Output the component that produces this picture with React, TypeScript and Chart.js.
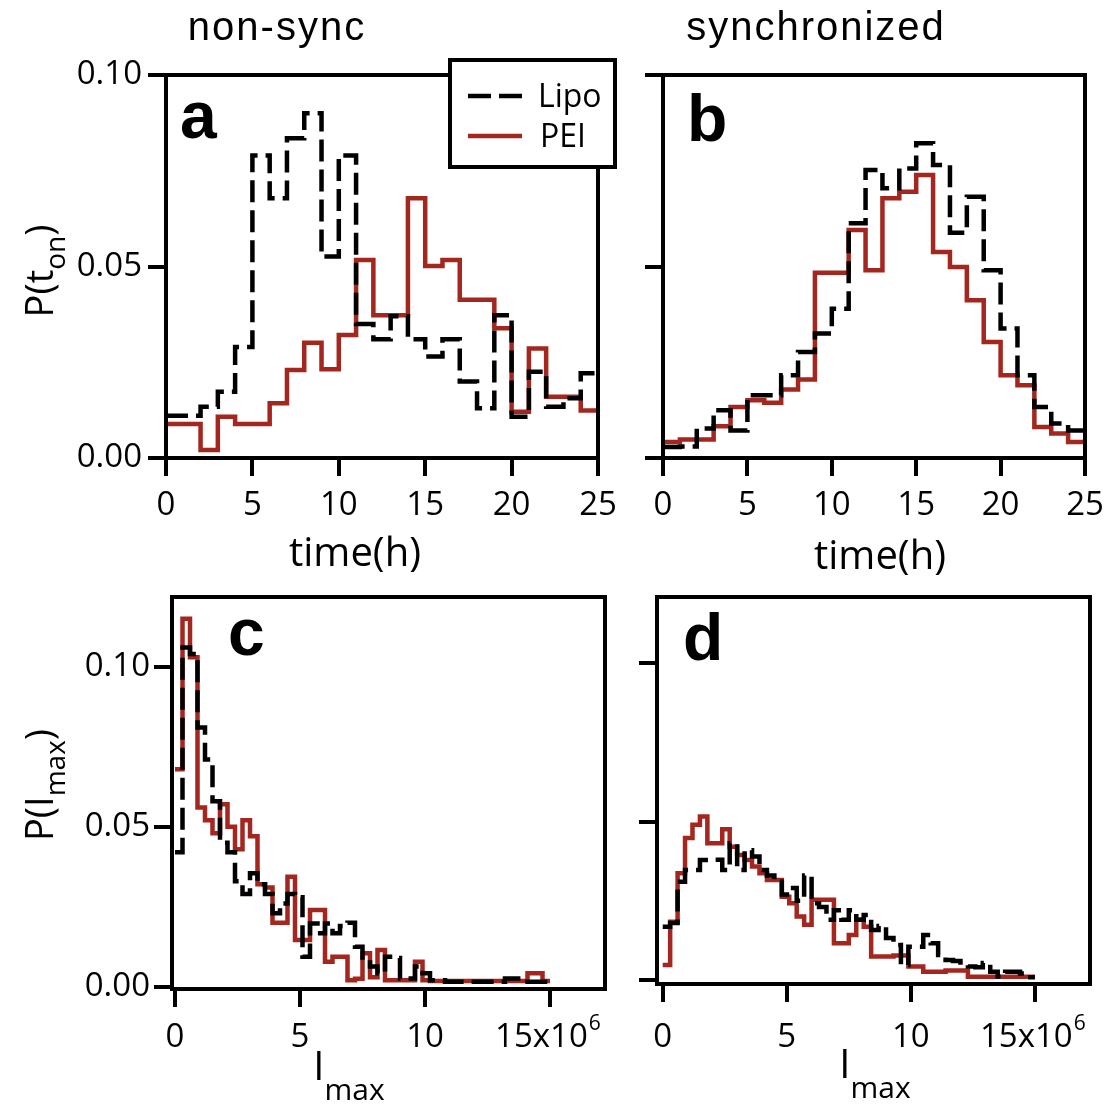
import React, { useEffect, useRef } from 'react';
import { Chart, registerables } from 'chart.js';

Chart.register(...registerables);

const W = 1107;
const H = 1108;
const RED = '#a3261f';
const BLACK = '#000000';
const SANS = "'Open Sans', 'DejaVu Sans', sans-serif";
const HELV = "'Liberation Sans', Arial, sans-serif";

// ---------------- data ----------------
const seriesLabels = ['Lipo', 'PEI'];
const timeTickValues = [0, 5, 10, 15, 20, 25];
const imaxTickValues = [0, 5, 10, 15];
const probTickValues = [0, 0.05, 0.1];
const timeBinWidth = 1; // h
const imaxBinWidth = 0.3; // x10^6

// panel a: non-sync, P(t_on), 1 h bins from 0 to 25 h
const lipoNonSyncTime = [0.011, 0.011, 0.0134, 0.0173, 0.029, 0.079, 0.0678, 0.0835, 0.09, 0.0526, 0.079, 0.035, 0.031, 0.037, 0.031, 0.0265, 0.031, 0.02, 0.013, 0.0373, 0.0108, 0.0225, 0.0134, 0.0156, 0.0221];
const peiNonSyncTime = [0.0089, 0.0089, 0.0021, 0.0108, 0.0089, 0.0089, 0.0143, 0.023, 0.0301, 0.0232, 0.0321, 0.0517, 0.0373, 0.0373, 0.0678, 0.0501, 0.0517, 0.0413, 0.0413, 0.0339, 0.0121, 0.0286, 0.016, 0.016, 0.0124];

// panel b: synchronized, P(t_on)
const lipoSyncTime = [0.0029, 0.003, 0.0077, 0.0125, 0.0072, 0.0164, 0.0164, 0.0216, 0.0277, 0.0325, 0.039, 0.0613, 0.0752, 0.0704, 0.0756, 0.0822, 0.0765, 0.0588, 0.0682, 0.049, 0.0338, 0.0216, 0.0133, 0.009, 0.0072];
const peiSyncTime = [0.0042, 0.0048, 0.0048, 0.0083, 0.0133, 0.0151, 0.0144, 0.0179, 0.0205, 0.0484, 0.0484, 0.0595, 0.049, 0.0678, 0.0695, 0.0739, 0.0538, 0.0499, 0.0412, 0.0303, 0.0216, 0.019, 0.0081, 0.0064, 0.0042];

// panel c: non-sync, P(I_max), 0.3x10^6 bins from 0 to 15x10^6
const lipoNonSyncImax = [
  0.042, 0.106, 0.104, 0.081, 0.071, 0.058, 0.045, 0.042, 0.033, 0.029,
  0.0355, 0.032, 0.029, 0.023, 0.026, 0.029, 0.028, 0.0094, 0.0198, 0.0167,
  0.0198, 0.0167, 0.019, 0.02, 0.0125, 0.0083, 0.0063, 0.0042, 0.0094, 0.009,
  0.0026, 0.0026, 0.0063, 0.0042, 0.002, 0.002, 0.0016, 0.0016, 0.0016, 0.0016,
  0.0016, 0.0016, 0.0016, 0.0016, 0.0026, 0.0026, 0.0026, 0.0016, 0.0016, 0.0016,
];
const peiNonSyncImax = [
  0.068, 0.115, 0.103, 0.056, 0.052, 0.048, 0.057, 0.05, 0.043, 0.052,
  0.047, 0.032, 0.031, 0.02, 0.02, 0.0344, 0.0146, 0.0146, 0.024, 0.024,
  0.0078, 0.0094, 0.0094, 0.002, 0.0025, 0.0105, 0.003, 0.0115, 0.002, 0.002,
  0.002, 0.002, 0.0078, 0.002, 0.0018, 0.0018, 0.0018, 0.0018, 0.0018, 0.0018,
  0.0018, 0.0018, 0.0018, 0.0018, 0.0018, 0.0018, 0.0018, 0.0042, 0.0042, 0.0018,
];

// panel d: synchronized, P(I_max)
const lipoSyncImax = [
  0.0168, 0.018, 0.031, 0.0347, 0.0347, 0.0379, 0.0379, 0.038, 0.0347, 0.0432,
  0.0347, 0.041, 0.039, 0.0347, 0.033, 0.031, 0.027, 0.029, 0.025, 0.033,
  0.0242, 0.023, 0.019, 0.022, 0.019, 0.022, 0.019, 0.0205, 0.0158, 0.017,
  0.0132, 0.011, 0.0047, 0.0105, 0.0105, 0.0142, 0.0116, 0.0079, 0.0063, 0.006,
  0.0047, 0.0042, 0.004, 0.0053, 0.0026, 0.0011, 0.0026, 0.0026, 0.002, 0.0008,
];
const peiSyncImax = [
  0.0047, 0.0184, 0.0337, 0.0448, 0.049, 0.0516, 0.0432, 0.0432, 0.0476, 0.0421,
  0.0395, 0.0379, 0.0358, 0.0337, 0.0316, 0.0316, 0.0263, 0.0242, 0.02, 0.0174,
  0.0253, 0.0253, 0.0253, 0.0116, 0.0116, 0.0142, 0.019, 0.0168, 0.0074, 0.0074,
  0.0074, 0.0077, 0.0077, 0.0042, 0.0042, 0.0026, 0.0026, 0.0026, 0.003, 0.003,
  0.003, 0.001, 0.001, 0.001, 0.001, 0.001, 0.001, 0.001, 0.001, 0.001,
];

// ---------------- helpers ----------------
function stepPoints(values: number[], width: number) {
  const pts = values.map((v, i) => ({ x: i * width, y: v }));
  pts.push({ x: values.length * width, y: values[values.length - 1] });
  return pts;
}

type Part = { t: string; sub?: boolean };

function drawParts(
  ctx: CanvasRenderingContext2D,
  parts: Part[],
  cx: number,
  cy: number,
  mainSize: number,
  subSize: number,
  subDy: number,
  vertical: boolean,
) {
  ctx.save();
  const mainFont = `${mainSize}px ${SANS}`;
  const subFont = `${subSize}px ${SANS}`;
  let total = 0;
  const widths = parts.map((p) => {
    ctx.font = p.sub ? subFont : mainFont;
    const w = ctx.measureText(p.t).width;
    total += w;
    return w;
  });
  ctx.translate(cx, cy);
  if (vertical) ctx.rotate(-Math.PI / 2);
  ctx.fillStyle = BLACK;
  ctx.textAlign = 'left';
  ctx.textBaseline = 'alphabetic';
  let x = -total / 2;
  parts.forEach((p, i) => {
    ctx.font = p.sub ? subFont : mainFont;
    ctx.fillText(p.t, x, p.sub ? subDy : 0);
    x += widths[i];
  });
  ctx.restore();
}

function drawPlain(
  ctx: CanvasRenderingContext2D,
  text: string,
  x: number,
  y: number,
  font: string,
  align: CanvasTextAlign,
  spacing = '0px',
) {
  ctx.save();
  ctx.font = font;
  (ctx as any).letterSpacing = spacing;
  ctx.fillStyle = BLACK;
  ctx.textAlign = align;
  ctx.textBaseline = 'alphabetic';
  ctx.fillText(text, x, y);
  ctx.restore();
}

type Spec = {
  id: string;
  area: { left: number; top: number; right: number; bottom: number };
  xMin: number;
  xMax: number;
  yMin: number;
  yMax: number;
  xTicks: number[];
  yTicks: number[];
  lipo: number[];
  pei: number[];
  binWidth: number;
  yLabels: boolean;
  xPad: number;
  yPad: number;
  xFmt: (v: number) => string;
  decorate: (chart: any, ctx: CanvasRenderingContext2D) => void;
};

const X_H = 80;
const TICK_LEN = 18;
const TICK_SIZE = 33;
const LINE_W = 4.5;

function buildConfig(spec: Spec): any {
  const yW = spec.yLabels ? 130 : 20;
  const a = spec.area;
  return {
    type: 'line',
    data: {
      datasets: [
        {
          label: seriesLabels[0],
          data: stepPoints(spec.lipo, spec.binWidth),
          borderColor: BLACK,
          borderWidth: LINE_W,
          borderDash: [22, 8],
          stepped: true,
          pointRadius: 0,
          fill: false,
        },
        {
          label: seriesLabels[1],
          data: stepPoints(spec.pei, spec.binWidth),
          borderColor: RED,
          borderWidth: LINE_W,
          stepped: true,
          pointRadius: 0,
          fill: false,
        },
      ],
    },
    options: {
      responsive: false,
      maintainAspectRatio: false,
      animation: false,
      events: [],
      layout: {
        padding: {
          left: a.left - yW,
          top: a.top,
          right: W - a.right,
          bottom: H - a.bottom - X_H,
        },
      },
      plugins: {
        legend: { display: false },
        tooltip: { enabled: false },
        title: { display: false },
      },
      scales: {
        x: {
          type: 'linear',
          position: 'bottom',
          min: spec.xMin,
          max: spec.xMax,
          afterBuildTicks: (s: any) => {
            s.ticks = spec.xTicks.map((v) => ({ value: v }));
          },
          afterFit: (s: any) => {
            s.height = X_H;
            s.paddingLeft = 0;
            s.paddingRight = 0;
          },
          grid: {
            display: true,
            drawOnChartArea: false,
            drawTicks: true,
            tickLength: TICK_LEN,
            tickWidth: 4,
            lineWidth: 4,
            tickColor: BLACK,
            color: BLACK,
          },
          border: { display: false },
          ticks: {
            color: BLACK,
            font: { family: SANS, size: TICK_SIZE },
            padding: spec.xPad,
            maxRotation: 0,
            minRotation: 0,
            autoSkip: false,
            callback: (v: any) => spec.xFmt(Number(v)),
          },
        },
        y: {
          type: 'linear',
          position: 'left',
          min: spec.yMin,
          max: spec.yMax,
          afterBuildTicks: (s: any) => {
            s.ticks = spec.yTicks.map((v) => ({ value: v }));
          },
          afterFit: (s: any) => {
            s.width = yW;
            s.paddingTop = 0;
            s.paddingBottom = 0;
          },
          grid: {
            display: true,
            drawOnChartArea: false,
            drawTicks: true,
            tickLength: TICK_LEN,
            tickWidth: 4,
            lineWidth: 4,
            tickColor: BLACK,
            color: BLACK,
          },
          border: { display: false },
          ticks: {
            color: BLACK,
            font: { family: SANS, size: TICK_SIZE },
            padding: spec.yPad,
            autoSkip: false,
            callback: (v: any) => (spec.yLabels ? Number(v).toFixed(2) : ''),
          },
        },
      },
    },
    plugins: [
      {
        id: 'decor_' + spec.id,
        afterDraw(chart: any) {
          const ctx: CanvasRenderingContext2D = chart.ctx;
          const ca = chart.chartArea;
          ctx.save();
          ctx.strokeStyle = BLACK;
          ctx.lineWidth = 4;
          ctx.setLineDash([]);
          ctx.strokeRect(ca.left, ca.top, ca.right - ca.left, ca.bottom - ca.top);
          ctx.restore();
          spec.decorate(chart, ctx);
        },
      },
    ],
  };
}

const LETTER_FONT = `bold 66px ${HELV}`;
const TITLE_FONT = `40px ${HELV}`;

function drawSuperscript(chart: any, ctx: CanvasRenderingContext2D, pad: number) {
  const xs = chart.scales.x;
  const px = xs.getPixelForValue(15);
  ctx.save();
  ctx.font = `${TICK_SIZE}px ${SANS}`;
  const full = ctx.measureText('15x10  ').width;
  const main = ctx.measureText('15x10').width;
  const mid = xs.top + TICK_LEN + pad + TICK_SIZE * 0.6;
  ctx.font = `21px ${SANS}`;
  ctx.fillStyle = BLACK;
  ctx.textAlign = 'left';
  ctx.textBaseline = 'middle';
  ctx.fillText('6', px - full / 2 + main + 1, mid - 14);
  ctx.restore();
}

const imaxFmt = (v: number) => (v === 15 ? '15x10  ' : String(v));

const specs: Spec[] = [
  {
    id: 'a',
    area: { left: 166, top: 75, right: 598, bottom: 458 },
    xMin: 0,
    xMax: 25,
    yMin: 0,
    yMax: 0.1,
    xTicks: timeTickValues,
    yTicks: probTickValues,
    lipo: lipoNonSyncTime,
    pei: peiNonSyncTime,
    binWidth: timeBinWidth,
    yLabels: true,
    xPad: 10,
    yPad: 6,
    xFmt: (v) => String(v),
    decorate: (chart, ctx) => {
      drawPlain(ctx, 'non-sync', 277, 40, TITLE_FONT, 'center', '2px');
      drawPlain(ctx, 'a', 180, 138, LETTER_FONT, 'left');
      drawParts(ctx, [{ t: 'time(h)' }], 355, 566, 40, 28, 0, false);
      drawParts(ctx, [{ t: 'P(t' }, { t: 'on', sub: true }, { t: ')' }], 53, 271, 38, 28, 12, true);
      // legend box
      ctx.save();
      ctx.fillStyle = '#ffffff';
      ctx.fillRect(450, 60, 165, 107);
      ctx.strokeStyle = BLACK;
      ctx.lineWidth = 4;
      ctx.strokeRect(450, 60, 165, 107);
      ctx.lineWidth = LINE_W;
      ctx.setLineDash([23, 8]);
      ctx.beginPath();
      ctx.moveTo(468, 96);
      ctx.lineTo(522, 96);
      ctx.stroke();
      ctx.setLineDash([]);
      ctx.strokeStyle = RED;
      ctx.beginPath();
      ctx.moveTo(468, 136);
      ctx.lineTo(522, 136);
      ctx.stroke();
      ctx.restore();
      drawPlain(ctx, chart.data.datasets[0].label, 538, 107, `32px ${SANS}`, 'left');
      drawPlain(ctx, chart.data.datasets[1].label, 540, 147, `32px ${SANS}`, 'left');
    },
  },
  {
    id: 'b',
    area: { left: 663, top: 75, right: 1085, bottom: 458 },
    xMin: 0,
    xMax: 25,
    yMin: 0,
    yMax: 0.1,
    xTicks: timeTickValues,
    yTicks: probTickValues,
    lipo: lipoSyncTime,
    pei: peiSyncTime,
    binWidth: timeBinWidth,
    yLabels: false,
    xPad: 10,
    yPad: 6,
    xFmt: (v) => String(v),
    decorate: (chart, ctx) => {
      drawPlain(ctx, 'synchronized', 816, 40, TITLE_FONT, 'center', '2px');
      drawPlain(ctx, 'b', 687, 141, LETTER_FONT, 'left');
      drawParts(ctx, [{ t: 'time(h)' }], 880, 569, 40, 28, 0, false);
    },
  },
  {
    id: 'c',
    area: { left: 172, top: 597, right: 605, bottom: 989 },
    xMin: -0.12,
    xMax: 17.2,
    yMin: -0.0007,
    yMax: 0.1218,
    xTicks: imaxTickValues,
    yTicks: probTickValues,
    lipo: lipoNonSyncImax,
    pei: peiNonSyncImax,
    binWidth: imaxBinWidth,
    yLabels: true,
    xPad: 11,
    yPad: 4,
    xFmt: imaxFmt,
    decorate: (chart, ctx) => {
      drawPlain(ctx, 'c', 228, 655, LETTER_FONT, 'left');
      drawSuperscript(chart, ctx, 11);
      drawParts(ctx, [{ t: 'I' }, { t: 'max', sub: true }], 349, 1080, 40, 30, 20, false);
      drawParts(ctx, [{ t: 'P(I' }, { t: 'max', sub: true }, { t: ')' }], 53, 785, 38, 28, 12, true);
    },
  },
  {
    id: 'd',
    area: { left: 657, top: 597, right: 1090, bottom: 984 },
    xMin: -0.23,
    xMax: 17.22,
    yMin: -0.0013,
    yMax: 0.121,
    xTicks: imaxTickValues,
    yTicks: probTickValues,
    lipo: lipoSyncImax,
    pei: peiSyncImax,
    binWidth: imaxBinWidth,
    yLabels: false,
    xPad: 16,
    yPad: 4,
    xFmt: imaxFmt,
    decorate: (chart, ctx) => {
      drawPlain(ctx, 'd', 683, 660, LETTER_FONT, 'left');
      drawSuperscript(chart, ctx, 16);
      drawParts(ctx, [{ t: 'I' }, { t: 'max', sub: true }], 875, 1078, 40, 30, 20, false);
    },
  },
];

function Panel({ spec }: { spec: Spec }) {
  const ref = useRef<HTMLCanvasElement>(null);
  useEffect(() => {
    const chart = new Chart(ref.current as HTMLCanvasElement, buildConfig(spec));
    return () => chart.destroy();
  }, [spec]);
  return (
    <canvas
      ref={ref}
      width={W}
      height={H}
      style={{ position: 'absolute', left: 0, top: 0, width: W, height: H }}
    />
  );
}

export default function App() {
  return (
    <div
      style={{
        position: 'absolute',
        left: 0,
        top: 0,
        width: W,
        height: H,
        background: '#ffffff',
        overflow: 'hidden',
      }}
    >
      {specs.map((s) => (
        <Panel key={s.id} spec={s} />
      ))}
    </div>
  );
}
